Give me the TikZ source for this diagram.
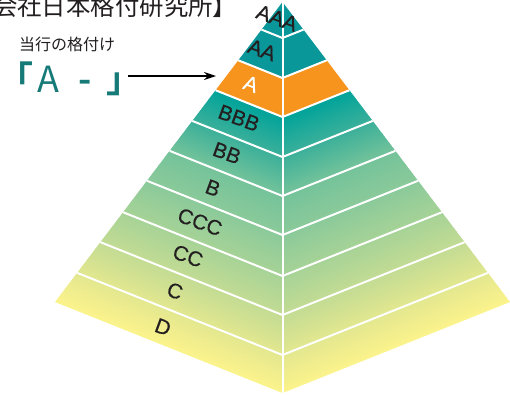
\documentclass[tikz,border=0pt]{standalone}
\usepackage{fontspec}
\setmainfont{Liberation Sans}
\newfontfamily\labelfont[FakeBold=0.4]{Liberation Sans}
\newfontfamily\cjk{Noto Sans CJK JP}
\newfontfamily\cjkbold{Noto Sans CJK JP Bold}
\usetikzlibrary{arrows.meta}
\definecolor{topteal}{HTML}{0A979A}
\definecolor{orng}{HTML}{F7941E}
\definecolor{s0}{HTML}{00A39A}
\definecolor{s1}{HTML}{3BB09A}
\definecolor{s2}{HTML}{75C39A}
\definecolor{s3}{HTML}{8CCA9A}
\definecolor{s4}{HTML}{A7D397}
\definecolor{s5}{HTML}{C4DC93}
\definecolor{s6}{HTML}{E4E88F}
\definecolor{s7}{HTML}{FFF48B}
\definecolor{txt}{HTML}{231F20}
\definecolor{rateteal}{HTML}{167B78}
\newcommand\putat[2]{\rlap{\hspace*{#1}#2}}
\begin{document}
\begin{tikzpicture}[x=1pt,y=-1pt,
  band label/.style={font=\labelfont\fontsize{21}{21}\selectfont, text=txt, rotate=-20, inner sep=0},
  sep line/.style={draw=white, line width=2pt},
  declare function={uu(\q)=(\q-2)/1.719;}]
\useasboundingbox (0,0) rectangle (510,394);
\def\cx{282.5}
\coordinate (apex) at (\cx,2);
\foreach \c [count=\k] in {38,78,117,157,196,235,276,315,355,393} {
  \coordinate (L\k) at ({\cx-uu(\c)},{\c-0.4*uu(\c)});
  \coordinate (M\k) at (\cx,\c);
  \coordinate (R\k) at ({\cx+uu(\c)},{\c-0.4*uu(\c)});
}
% fills
\fill[topteal] (apex) -- (R2) -- (M2) -- (L2) -- cycle;
\fill[orng] (L2) -- (M2) -- (R2) -- (R3) -- (M3) -- (L3) -- cycle;
\foreach \c in {117,119,...,391} {
  \pgfmathsetmacro\cb{min(393,\c+2.7)}
  \pgfmathsetmacro\cm{\c+1}
  \pgfmathtruncatemacro\seg{min(6,floor((\cm-117)/40))}
  \pgfmathtruncatemacro\nseg{\seg+1}
  \pgfmathtruncatemacro\pct{round(100-100*((\cm-117)/40-\seg))}
  \fill[s\seg!\pct!s\nseg] ({\cx-uu(\c)},{\c-0.4*uu(\c)}) -- (\cx,\c) -- ({\cx+uu(\c)},{\c-0.4*uu(\c)})
     -- ({\cx+uu(\cb)},{\cb-0.4*uu(\cb)}) -- (\cx,\cb) -- ({\cx-uu(\cb)},{\cb-0.4*uu(\cb)}) -- cycle;
}
% white separators
\foreach \k in {1,...,9} \draw[sep line] (L\k) -- (M\k) -- (R\k);
\draw[sep line] (apex) -- (M10);
% band labels
\node[band label] (lAAA) at (277,18) {AAA};
\node[band label] (lAA) at (262,50) {AA};
\node[band label, text=white] (lA) at (251,84) {A};
\node[band label] (lBBB) at (239,118) {BBB};
\node[band label] (lBB) at (227,153) {BB};
\node[band label] (lB) at (213,188) {B};
\node[band label] (lCCC) at (200,222) {CCC};
\node[band label] (lCC) at (188,256) {CC};
\node[band label] (lC) at (175,291) {C};
\node[band label] (lD) at (163,327) {D};
% texts
\node[anchor=base west, inner sep=0, font=\cjk\fontsize{24.4}{24.4}\selectfont, text=txt] (title) at (-7,15) {会社日本格付研究所】};
\node[anchor=base west, inner sep=0, font=\cjk\fontsize{16}{16}\selectfont, text=txt] (cur) at (19,50.5) {当行の格付け};
\node[anchor=base west, inner sep=0, text=rateteal, font=\cjk\fontsize{36}{36}\selectfont] (rating) at (0,92)
  {\putat{-3pt}{\cjkbold 「}\putat{37.5pt}{A}\putat{78pt}{\cjkbold -}\putat{106pt}{\cjkbold 」}\hspace*{128pt}};
\coordinate (aend) at (216,76);
\draw[-{Stealth[length=12pt,width=8pt]}, line width=1.3pt] (rating.east |- aend) -- (aend);
\end{tikzpicture}
\end{document}
